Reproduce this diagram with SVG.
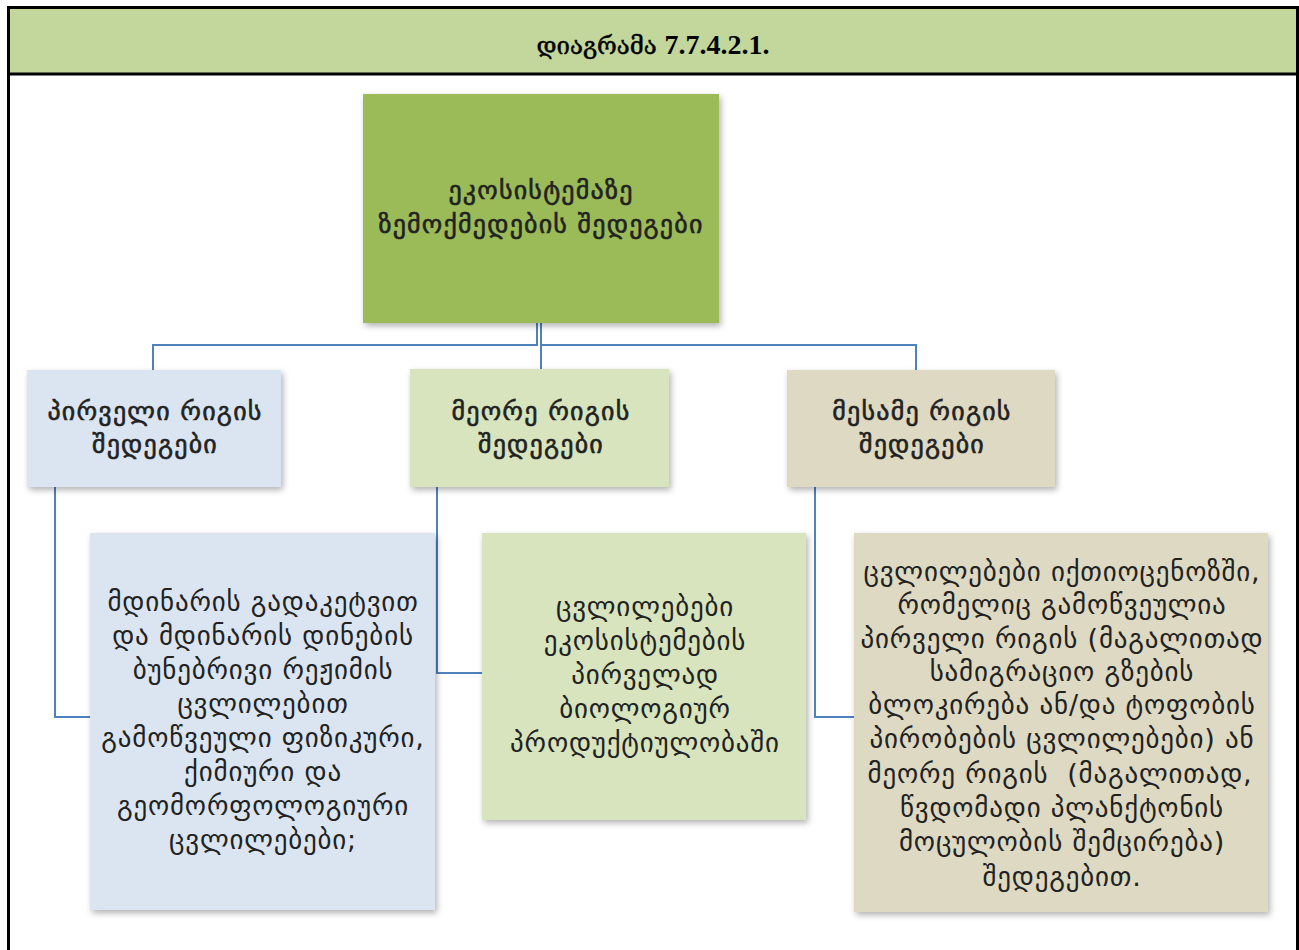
<svg xmlns="http://www.w3.org/2000/svg" width="1299" height="950" viewBox="0 0 1299 950">
<defs>
<filter id="sh" x="-10%" y="-10%" width="125%" height="125%">
<feDropShadow dx="2" dy="3" stdDeviation="3" flood-color="#000" flood-opacity="0.3"/>
</filter>
<style>
.t{font-family:"DejaVu Sans","Noto Sans",sans-serif;font-size:27px;letter-spacing:0.8px;fill:#222;text-anchor:middle}
.h{font-size:26px;letter-spacing:1.2px;stroke:#222;stroke-width:0.6px}
.conn{fill:none;stroke:#4f81bd;stroke-width:2}
.blue{fill:#dbe5f1}
.green{fill:#d7e4bd}
.tan{fill:#ddd9c3}
</style>
</defs>
<rect x="0" y="0" width="1299" height="950" fill="#ffffff"/>
<g id="frame">
<rect x="8" y="7" width="1289" height="67" fill="#c3d69b"/>
<path d="M8.5 960 V7.5 H1297.5 V960 M8 74 H1298" fill="none" stroke="#000" stroke-width="3"/>
<text x="653" y="54" style="font-family:'DejaVu Serif','Liberation Serif',serif;font-size:24px;fill:#000;stroke:#000;stroke-width:0.5px;text-anchor:middle">დიაგრამა <tspan style="font-family:'Liberation Serif',serif;font-weight:bold;font-size:28px;stroke-width:0">7.7.4.2.1.</tspan></text>
</g>
<g id="connectors">
<path class="conn" d="M537 323 V345 H153 V370"/>
<path class="conn" d="M541 323 V369"/>
<path class="conn" d="M541 345 H916 V370"/>
<path class="conn" d="M55 487 V717 H90"/>
<path class="conn" d="M437 487 V673 H482"/>
<path class="conn" d="M815 487 V717 H854"/>
</g>
<g id="root">
<rect x="363" y="94" width="356" height="229" fill="#9bbb59" filter="url(#sh)"/>
<text class="t h" x="541" y="199">ეკოსისტემაზე</text>
<text class="t h" x="541" y="233">ზემოქმედების შედეგები</text>
</g>
<g id="n1">
<rect class="blue" x="27" y="370" width="254" height="117" filter="url(#sh)"/>
<text class="t h" x="155" y="420">პირველი რიგის</text>
<text class="t h" x="155" y="453">შედეგები</text>
</g>
<g id="n2">
<rect class="green" x="410" y="369" width="259" height="118" filter="url(#sh)"/>
<text class="t h" x="541" y="420">მეორე რიგის</text>
<text class="t h" x="541" y="453">შედეგები</text>
</g>
<g id="n3">
<rect class="tan" x="787" y="370" width="268" height="117" filter="url(#sh)"/>
<text class="t h" x="922" y="420">მესამე რიგის</text>
<text class="t h" x="922" y="453">შედეგები</text>
</g>
<g id="n4">
<rect class="blue" x="90" y="533" width="345" height="377" filter="url(#sh)"/>
<text class="t" x="263" y="611">მდინარის გადაკეტვით</text>
<text class="t" x="263" y="645">და მდინარის დინების</text>
<text class="t" x="263" y="679">ბუნებრივი რეჟიმის</text>
<text class="t" x="263" y="713">ცვლილებით</text>
<text class="t" x="263" y="747">გამოწვეული ფიზიკური,</text>
<text class="t" x="263" y="781">ქიმიური და</text>
<text class="t" x="263" y="815">გეომორფოლოგიური</text>
<text class="t" x="263" y="849">ცვლილებები;</text>
</g>
<g id="n5">
<rect class="green" x="482" y="533" width="324" height="287" filter="url(#sh)"/>
<text class="t" x="645" y="616">ცვლილებები</text>
<text class="t" x="645" y="650">ეკოსისტემების</text>
<text class="t" x="645" y="684">პირველად</text>
<text class="t" x="645" y="718">ბიოლოგიურ</text>
<text class="t" x="645" y="752">პროდუქტიულობაში</text>
</g>
<g id="n6">
<rect class="tan" x="854" y="533" width="414" height="379" filter="url(#sh)"/>
<text class="t" x="1062" y="581">ცვლილებები იქთიოცენოზში,</text>
<text class="t" x="1062" y="614">რომელიც გამოწვეულია</text>
<text class="t" x="1062" y="648">პირველი რიგის (მაგალითად</text>
<text class="t" x="1062" y="681">სამიგრაციო გზების</text>
<text class="t" x="1062" y="714">ბლოკირება ან/და ტოფობის</text>
<text class="t" x="1062" y="748">პირობების ცვლილებები) ან</text>
<text class="t" x="1060" y="783" xml:space="preserve">მეორე რიგის  (მაგალითად,</text>
<text class="t" x="1062" y="817">წვდომადი პლანქტონის</text>
<text class="t" x="1062" y="851">მოცულობის შემცირება)</text>
<text class="t" x="1062" y="886">შედეგებით.</text>
</g>
</svg>
